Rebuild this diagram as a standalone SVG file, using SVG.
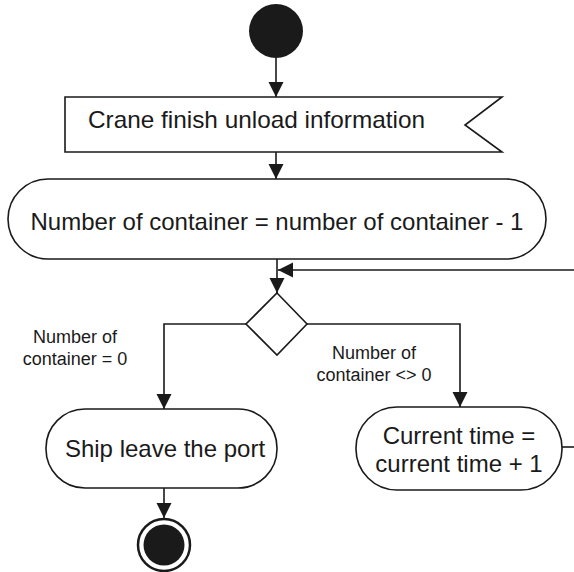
<svg xmlns="http://www.w3.org/2000/svg" width="574" height="572" viewBox="0 0 574 572">
<defs>
<marker id="ah" markerWidth="16" markerHeight="16" refX="15" refY="7.5" orient="auto" markerUnits="userSpaceOnUse">
<path d="M0,0 L15,7.5 L0,15 Z" fill="#1a1a1a"/>
</marker>
</defs>
<style>
.box{fill:#fff;stroke:#1a1a1a;stroke-width:1.6}
.ln{fill:none;stroke:#1a1a1a;stroke-width:1.6}
.t{font-family:"Liberation Sans",Arial,sans-serif;font-size:24px;fill:#1a1a1a}
.s{font-family:"Liberation Sans",Arial,sans-serif;font-size:18px;fill:#1a1a1a;text-anchor:middle}
</style>
<rect width="574" height="572" fill="#fff"/>
<g id="connectors">
<path class="ln" d="M276,58 V97" marker-end="url(#ah)"/>
<path class="ln" d="M276,152 V179" marker-end="url(#ah)"/>
<path class="ln" d="M277,259 V293" marker-end="url(#ah)"/>
<path class="ln" d="M574,270 H278" marker-end="url(#ah)"/>
<path class="ln" d="M246,324 H164 V409" marker-end="url(#ah)"/>
<path class="ln" d="M307,324 H460 V407" marker-end="url(#ah)"/>
<path class="ln" d="M164,488 V518" marker-end="url(#ah)"/>
<path class="ln" d="M562,447 H574"/>
</g>
<g id="start">
<circle cx="276" cy="31" r="27" fill="#1a1a1a"/>
</g>
<g id="signal">
<path class="box" d="M65,97 H502 L465,125 L502,152 H65 Z"/>
<text class="t" x="88" y="128" textLength="337" lengthAdjust="spacingAndGlyphs">Crane finish unload information</text>
</g>
<g id="decrement">
<rect class="box" x="8" y="179" width="538" height="80" rx="40" ry="40"/>
<text class="t" x="277" y="230" text-anchor="middle">Number of container = number of container - 1</text>
</g>
<g id="decision">
<path class="box" d="M277,293 L307,324 L277,355 L246,324 Z"/>
</g>
<g id="label-zero">
<text class="s" x="75" y="343">Number of</text>
<text class="s" x="75" y="365">container = 0</text>
</g>
<g id="label-nonzero">
<text class="s" x="374" y="359">Number of</text>
<text class="s" x="374" y="381">container &lt;&gt; 0</text>
</g>
<g id="ship">
<rect class="box" x="46" y="409" width="231" height="79" rx="39" ry="39"/>
<text class="t" x="165" y="457" text-anchor="middle">Ship leave the port</text>
</g>
<g id="time">
<rect class="box" x="356" y="407" width="206" height="83" rx="41" ry="41"/>
<text class="t" x="459" y="444" text-anchor="middle">Current time =</text>
<text class="t" x="459" y="472" text-anchor="middle">current time + 1</text>
</g>
<g id="end">
<circle cx="164" cy="545" r="26" fill="#fff" stroke="#1a1a1a" stroke-width="2.5"/>
<circle cx="164" cy="545" r="20.5" fill="#1a1a1a"/>
</g>
</svg>
